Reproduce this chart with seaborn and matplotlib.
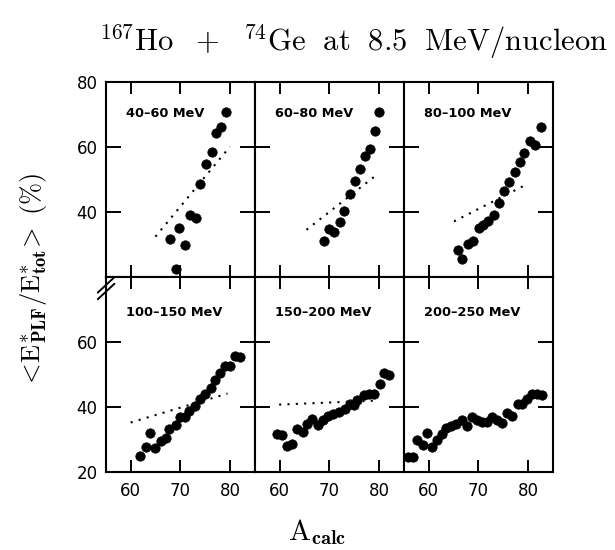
import numpy as np
import pandas as pd
import matplotlib
matplotlib.use("Agg")
import matplotlib.pyplot as plt
import seaborn as sns
from matplotlib.lines import Line2D

# ---------------- data ----------------
labels = ["40\u201360 MeV", "60\u201380 MeV", "80\u2013100 MeV",
          "100\u2013150 MeV", "150\u2013200 MeV", "200\u2013250 MeV"]

a_40_60 = [79.1, 78.1, 77.2, 76.3, 75.1, 74.0, 71.9, 73.1, 69.8, 67.9, 70.9, 69.1]
e_40_60 = [70.8, 66.1, 64.2, 58.4, 54.9, 48.7, 39.0, 38.0, 35.2, 31.6, 29.7, 22.3]

a_60_80 = [79.9, 79.2, 78.1, 77.2, 76.2, 75.2, 74.1, 73.0, 72.1, 71.0, 70.0, 69.0]
e_60_80 = [70.8, 64.9, 59.4, 57.2, 53.1, 49.6, 45.5, 40.2, 36.9, 33.8, 34.8, 31.1]

a_80_100 = [82.6, 81.4, 80.3, 79.2, 78.3, 77.4, 76.1, 75.2, 74.1, 73.1, 72.0,
            71.0, 70.1, 68.9, 67.9, 66.0, 66.8]
e_80_100 = [66.0, 60.6, 61.7, 58.0, 55.5, 52.4, 49.3, 46.4, 42.7, 39.1, 37.3,
            36.0, 35.1, 31.0, 30.2, 28.4, 25.6]

a_100_150 = [61.9, 63.1, 64.0, 65.0, 66.1, 67.1, 67.8, 69.1, 69.9, 70.9, 71.8,
             72.9, 74.0, 74.9, 76.1, 77.0, 78.0, 78.9, 80.0, 81.0, 82.1]
e_100_150 = [24.9, 27.7, 31.9, 27.3, 29.5, 30.4, 33.1, 34.5, 36.9, 36.9, 38.6,
             40.3, 42.4, 44.0, 45.8, 48.3, 50.4, 52.7, 52.7, 55.8, 55.3]

a_150_200 = [59.4, 60.4, 61.4, 62.4, 63.4, 64.6, 65.6, 66.6, 67.7, 68.7, 69.7,
             70.8, 72.0, 73.1, 74.1, 75.0, 75.6, 77.0, 78.0, 79.0, 80.1, 81.0, 82.0]
e_150_200 = [31.8, 31.3, 28.0, 28.7, 33.1, 32.3, 34.6, 36.4, 34.3, 35.9, 37.2,
             37.9, 38.5, 39.5, 41.0, 40.5, 42.0, 43.8, 44.1, 44.1, 46.9, 50.3, 49.8]

a_200_250 = [55.9, 56.8, 57.7, 58.8, 59.7, 60.7, 61.7, 62.6, 63.5, 64.5, 65.5,
             66.7, 67.8, 68.8, 69.8, 70.8, 71.8, 72.8, 73.8, 74.8, 75.8, 76.8,
             77.9, 78.8, 79.8, 80.8, 81.8, 82.8]
e_200_250 = [24.6, 24.6, 29.7, 28.2, 32.1, 27.7, 29.7, 31.6, 33.4, 34.2, 34.6,
             35.9, 34.2, 37.0, 36.0, 35.4, 35.4, 36.9, 35.9, 35.0, 38.2, 37.2,
             40.8, 40.8, 42.3, 43.9, 43.9, 43.6]

a_data = [a_40_60, a_60_80, a_80_100, a_100_150, a_150_200, a_200_250]
e_data = [e_40_60, e_60_80, e_80_100, e_100_150, e_150_200, e_200_250]

# dotted reference lines (end points), None = no line
fit_a = [(65.0, 80.0), (65.4, 79.6), (65.1, 80.0), (60.0, 79.5), (59.9, 80.0), None]
fit_e = [(32.4, 60.1), (34.5, 51.5), (37.1, 48.7), (35.2, 44.1), (40.7, 42.0), None]

x_ticks = [60, 70, 80]
y_ticks = [20, 40, 60, 80]
top_row_ylabels = ["", "40", "60", "80"]
bottom_row_ylabels = ["20", "40", "60", ""]

# ---------------- style ----------------
sns.set_theme(style="ticks")
plt.rcParams["font.family"] = ["DejaVu Sans"]
plt.rcParams["mathtext.fontset"] = "cm"
plt.rcParams["axes.linewidth"] = 1.5

fig, axes = plt.subplots(2, 3, figsize=(6.15, 5.5), dpi=100)
fig.subplots_adjust(left=0.172, right=0.899, top=0.851, bottom=0.142,
                    wspace=0, hspace=0)

for i, ax in enumerate(axes.flat):
    row, col = divmod(i, 3)
    df = pd.DataFrame({"A": a_data[i], "E": e_data[i]})
    if fit_a[i] is not None:
        fdf = pd.DataFrame({"A": list(fit_a[i]), "E": list(fit_e[i])})
        sns.lineplot(data=fdf, x="A", y="E", ax=ax, color="black",
                     linewidth=1.5, linestyle=(0, (1, 3)), sort=False)
    sns.scatterplot(data=df, x="A", y="E", ax=ax, color="black", s=46,
                    edgecolor="black", linewidth=0.5, zorder=3)
    ax.set_xlim(55, 85)
    ax.set_ylim(20, 80)
    ax.set_xticks(x_ticks)
    ax.set_yticks(y_ticks)
    ax.set_xlabel("")
    ax.set_ylabel("")
    ax.tick_params(axis="both", direction="in", top=True, right=True,
                   width=1.4, labelsize=12, colors="black")
    ax.tick_params(axis="x", length=8.5, pad=7)
    ax.tick_params(axis="y", length=11, pad=6)
    if col == 0:
        ax.set_yticklabels(top_row_ylabels if row == 0 else bottom_row_ylabels)
    else:
        ax.set_yticklabels([])
    if row == 1:
        ax.set_xticklabels([str(t) for t in x_ticks])
    else:
        ax.set_xticklabels([])
    for sp in ax.spines.values():
        sp.set_visible(True)
        sp.set_color("black")
        sp.set_linewidth(1.5)
    ypos = 0.84 if row == 0 else 0.82
    ax.text(0.135, ypos, labels[i], transform=ax.transAxes, fontsize=9.3,
            fontweight="bold", ha="left", va="center", color="black")

# axis break mark on left axis
for dy in (0.0, -0.012):
    fig.add_artist(Line2D([0.159, 0.186], [0.468 + dy, 0.496 + dy],
                          transform=fig.transFigure, color="black", lw=1.4))

fig.text(0.574, 0.925,
         r"${}^{167}\mathrm{Ho}\ \ +\ \ {}^{74}\mathrm{Ge\ \ at\ \ 8.5\ \ MeV/nucleon}$",
         ha="center", va="center", fontsize=22, color="black")
fig.text(0.055, 0.49,
         r"$<\!\mathrm{E}^{*}_{\mathbf{PLF}}/\mathrm{E}^{*}_{\mathbf{tot}}\!>\ (\%)$",
         rotation=90, ha="center", va="center", fontsize=19, color="black")
fig.text(0.515, 0.033, r"$\mathrm{A}_{\mathbf{calc}}$", ha="center", va="center",
         fontsize=21, color="black")

fig.savefig("out.png", dpi=100, facecolor="white")
